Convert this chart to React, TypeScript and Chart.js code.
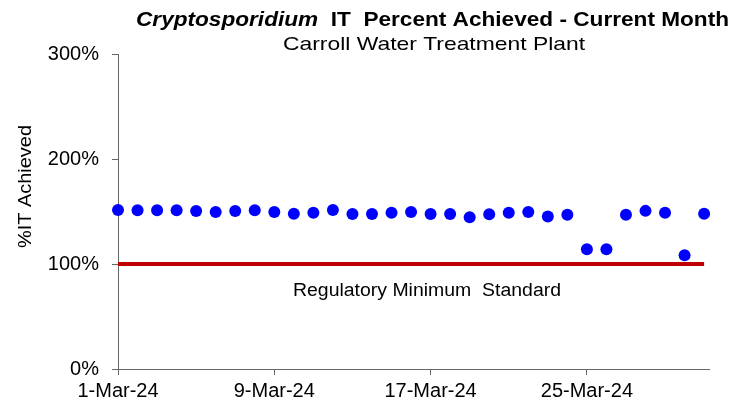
import React, { useEffect, useRef } from "react";
import { Chart, registerables } from "chart.js";

Chart.register(...registerables);

// ---- Data ----
const days: number[] = [
  1, 2, 3, 4, 5, 6, 7, 8, 9, 10, 11, 12, 13, 14, 15, 16,
  17, 18, 19, 20, 21, 22, 23, 24, 25, 26, 27, 28, 29, 30, 31,
];
const itPercentAchieved: number[] = [
  151.4, 151.2, 151.2, 151.2, 150.4, 149.6, 150.4, 151.2, 149.6, 147.8, 148.8,
  151.4, 147.6, 147.6, 148.8, 149.6, 147.6, 147.6, 144.6, 147.4, 148.8, 149.6,
  145.2, 147.0, 114.0, 114.0, 147.0, 150.6, 148.8, 108.4, 147.8,
];
const regulatoryDays: number[] = [1, 31];
const regulatoryMinimum: number[] = [100, 100];
const xTickDays: number[] = [1, 9, 17, 25];
const yTickValues: number[] = [0, 100, 200, 300];
const monthLabel = "Mar-24";

const titleItalic = "Cryptosporidium";
const titleRest = "  IT  Percent Achieved - Current Month";
const subtitle = "Carroll Water Treatment Plant";
const yAxisTitle = "%IT Achieved";
const regulatoryLabel = "Regulatory Minimum  Standard";

const FONT = '"Liberation Sans", Arial, sans-serif';

function fitText(
  ctx: CanvasRenderingContext2D,
  parts: { text: string; font: string }[],
  left: number,
  right: number,
  cy: number
) {
  let total = 0;
  const widths = parts.map((p) => {
    ctx.font = p.font;
    const w = ctx.measureText(p.text).width;
    total += w;
    return w;
  });
  const sx = (right - left) / total;
  ctx.save();
  ctx.translate(left, cy);
  ctx.scale(sx, 1);
  let x = 0;
  parts.forEach((p, i) => {
    ctx.font = p.font;
    ctx.fillText(p.text, x, 0);
    x += widths[i];
  });
  ctx.restore();
}

const textPlugin = {
  id: "customText",
  afterDraw(chart: any) {
    const ctx: CanvasRenderingContext2D = chart.ctx;
    ctx.save();
    ctx.fillStyle = "#000";
    ctx.textAlign = "left";
    ctx.textBaseline = "alphabetic";
    fitText(
      ctx,
      [
        { text: titleItalic, font: `italic bold 20px ${FONT}` },
        { text: titleRest, font: `bold 20px ${FONT}` },
      ],
      136,
      729,
      26
    );
    fitText(ctx, [{ text: subtitle, font: `19px ${FONT}` }], 283, 585, 50);
    fitText(ctx, [{ text: regulatoryLabel, font: `18px ${FONT}` }], 293, 561, 296);
    // y axis title, rotated
    ctx.save();
    ctx.translate(31, 186.5);
    ctx.rotate(-Math.PI / 2);
    ctx.font = `19px ${FONT}`;
    const w = ctx.measureText(yAxisTitle).width;
    ctx.scale(123 / w, 1);
    ctx.textAlign = "center";
    ctx.fillText(yAxisTitle, 0, 0);
    ctx.restore();
    ctx.restore();
  },
};

export default function App() {
  const canvasRef = useRef<HTMLCanvasElement | null>(null);

  useEffect(() => {
    const canvas = canvasRef.current;
    if (!canvas) return;
    const chart = new Chart(canvas, {
      type: "scatter",
      data: {
        datasets: [
          {
            type: "line",
            label: "Regulatory Minimum Standard",
            data: regulatoryDays.map((d, i) => ({ x: d, y: regulatoryMinimum[i] })),
            borderColor: "#C00000",
            borderWidth: 4,
            pointRadius: 0,
            fill: false,
            clip: false as any,
          } as any,
          {
            type: "scatter",
            label: "%IT Achieved",
            data: days.map((d, i) => ({ x: d, y: itPercentAchieved[i] })),
            backgroundColor: "#0000FF",
            borderColor: "#0000FF",
            borderWidth: 0,
            pointRadius: 6,
            clip: false as any,
          } as any,
        ],
      },
      options: {
        responsive: false,
        animation: false,
        devicePixelRatio: 1,
        layout: { padding: { top: 54, right: 40, left: 0, bottom: 0 } },
        plugins: {
          legend: { display: false },
          tooltip: { enabled: false },
          title: { display: false },
        },
        scales: {
          x: {
            type: "linear",
            min: 1,
            max: 31.25,
            afterBuildTicks: (scale: any) => {
              scale.ticks = xTickDays.map((v) => ({ value: v }));
            },
            afterFit: (scale: any) => {
              scale.height = 33;
            },
            ticks: {
              autoSkip: false,
              maxRotation: 0,
              padding: 4,
              color: "#000",
              font: { family: FONT, size: 20 },
              callback: (v: any) => `${v}-${monthLabel}`,
            },
            grid: {
              display: true,
              drawOnChartArea: false,
              drawTicks: true,
              tickLength: 6,
              color: "#666",
            },
            border: { display: true, color: "#666", width: 1 },
          },
          y: {
            min: 0,
            max: 300,
            afterBuildTicks: (scale: any) => {
              scale.ticks = yTickValues.map((v) => ({ value: v }));
            },
            afterFit: (scale: any) => {
              scale.width = 118;
            },
            ticks: {
              padding: 13,
              color: "#000",
              font: { family: FONT, size: 20 },
              callback: (v: any) => `${v}%`,
            },
            grid: {
              display: true,
              drawOnChartArea: false,
              drawTicks: true,
              tickLength: 6,
              color: "#666",
            },
            border: { display: true, color: "#666", width: 1 },
          },
        },
      },
      plugins: [textPlugin],
    });
    return () => chart.destroy();
  }, []);

  return (
    <div style={{ position: "absolute", left: 0, top: 0, width: 749, height: 402, background: "#fff" }}>
      <canvas ref={canvasRef} width={749} height={402} />
    </div>
  );
}
